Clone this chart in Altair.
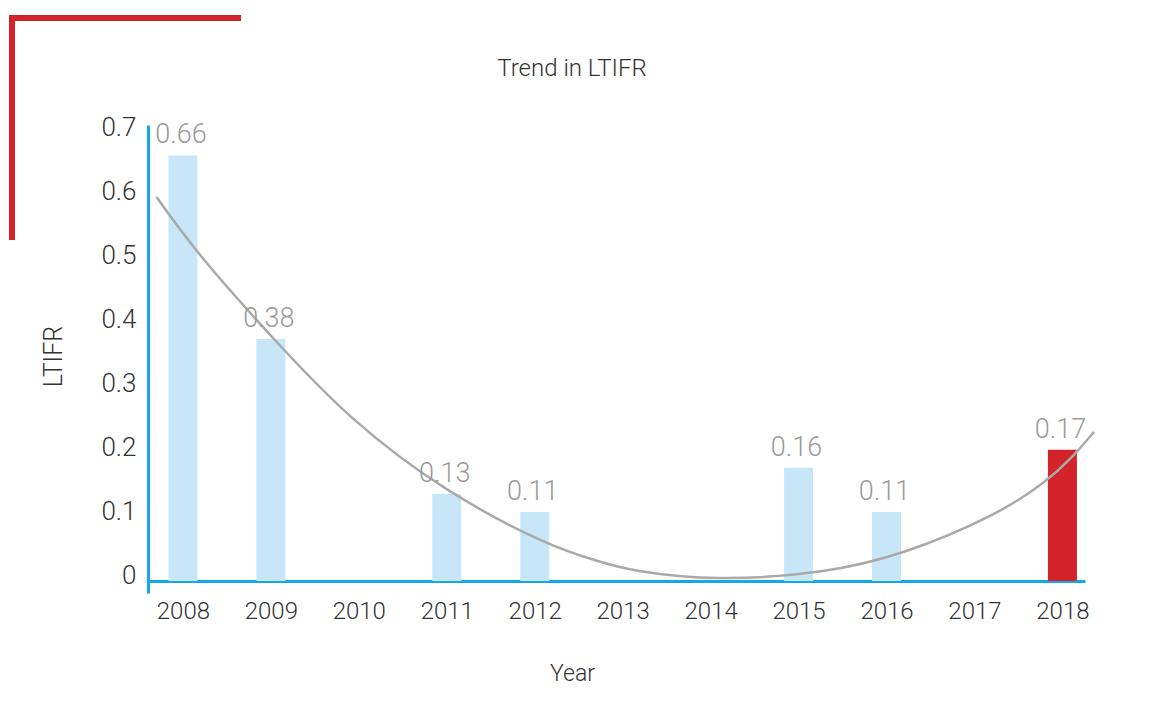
import altair as alt
import pandas as pd

# ---- data ----
years = [2008, 2009, 2011, 2012, 2015, 2016, 2018]
bar_heights = [0.665, 0.378, 0.136, 0.108, 0.177, 0.108, 0.205]
bar_labels = ["0.66", "0.38", "0.13", "0.11", "0.16", "0.11", "0.17"]

trend_x = [2007.70, 2008.19, 2009.11, 2009.90, 2010.98, 2012.18, 2012.75,
           2013.08, 2014.06, 2015.29, 2016.19, 2017.25, 2017.80, 2018.12, 2018.36]
trend_y = [0.600, 0.506, 0.366, 0.252, 0.139, 0.053, 0.030,
           0.016, 0.000, 0.012, 0.041, 0.103, 0.153, 0.194, 0.233]

tick_years = list(range(2008, 2019))
y_ticks = [0, 0.1, 0.2, 0.3, 0.4, 0.5, 0.6, 0.7]
chart_title = "Trend in LTIFR"

bars_df = pd.DataFrame({"year": years, "value": bar_heights, "label": bar_labels})
trend_df = pd.DataFrame({"year": trend_x, "value": trend_y})

FONT = "Roboto"
AXIS_BLUE = "#12a9e6"
LIGHT_BLUE = "#c7e7f9"
RED = "#d2232a"

W, H = 937, 468

x_scale = alt.Scale(domain=[2007.66, 2018.2], nice=False, zero=False)
y_scale = alt.Scale(domain=[-0.01875, 0.7125], nice=False, zero=False)

x_axis = alt.Axis(
    values=tick_years, format="d", grid=False, ticks=False,
    domainColor=AXIS_BLUE, domainWidth=3, offset=-12,
    labelFont=FONT, labelFontSize=24, labelFontWeight=300, labelColor="#333333",
    labelPadding=18,
    title="Year", titleFont=FONT, titleFontSize=23, titleFontWeight=300,
    titleColor="#333333", titleX=424, titleY=99, titleBaseline="alphabetic",
    titleAlign="center",
)
y_axis = alt.Axis(
    values=y_ticks, labelExpr="format(datum.value, '.1~f')", grid=False, ticks=False,
    domainColor=AXIS_BLUE, domainWidth=3,
    labelFont=FONT, labelFontSize=26, labelFontWeight=300, labelColor="#333333",
    labelPadding=12, labelOffset=-6,
    title="LTIFR", titleFont=FONT, titleFontSize=25, titleFontWeight=300,
    titleColor="#333333", titleX=-95, titleY=231, titleAngle=-90,
    titleBaseline="middle", titleAlign="center",
)

base = alt.Chart(bars_df)

bars = base.mark_bar(size=29).encode(
    x=alt.X("year:Q", scale=x_scale, axis=x_axis),
    y=alt.Y("value:Q", scale=y_scale, axis=y_axis),
    y2=alt.datum(0),
    color=alt.condition(alt.datum.year == 2018, alt.value(RED), alt.value(LIGHT_BLUE)),
)

labels = base.mark_text(
    font=FONT, fontSize=27, fontWeight=300, color="#9a9a9a",
    baseline="alphabetic", dy=-12, dx=-2,
).encode(
    x=alt.X("year:Q", scale=x_scale),
    y=alt.Y("value:Q", scale=y_scale),
    text="label:N",
)

trend = alt.Chart(trend_df).mark_line(
    color="#a9a9a9", strokeWidth=2.5, interpolate="basis", clip=False
).encode(
    x=alt.X("year:Q", scale=x_scale),
    y=alt.Y("value:Q", scale=y_scale),
)

one_df = pd.DataFrame({"k": [0]})
deco_h = alt.Chart(one_df).mark_rule(color=RED, strokeWidth=6, strokeCap="butt").encode(
    x=alt.value(-139), x2=alt.value(93), y=alt.value(-107)
)
deco_v = alt.Chart(one_df).mark_rule(color=RED, strokeWidth=6, strokeCap="butt").encode(
    x=alt.value(-136), y=alt.value(-110), y2=alt.value(115)
)
title_mark = alt.Chart(one_df).mark_text(
    font=FONT, fontSize=24, fontWeight=300, color="#333333",
    align="center", baseline="middle",
).encode(x=alt.value(424), y=alt.value(-56), text=alt.value(chart_title))

chart = alt.layer(bars, trend, labels, deco_h, deco_v, title_mark).properties(
    width=W, height=H,
    autosize=alt.AutoSizeParams(type="none"),
    padding={"left": 140, "top": 117, "right": 71, "bottom": 105},
).configure_view(stroke=None)

chart.save("out.html", embed_options={"renderer": "svg", "actions": False})
